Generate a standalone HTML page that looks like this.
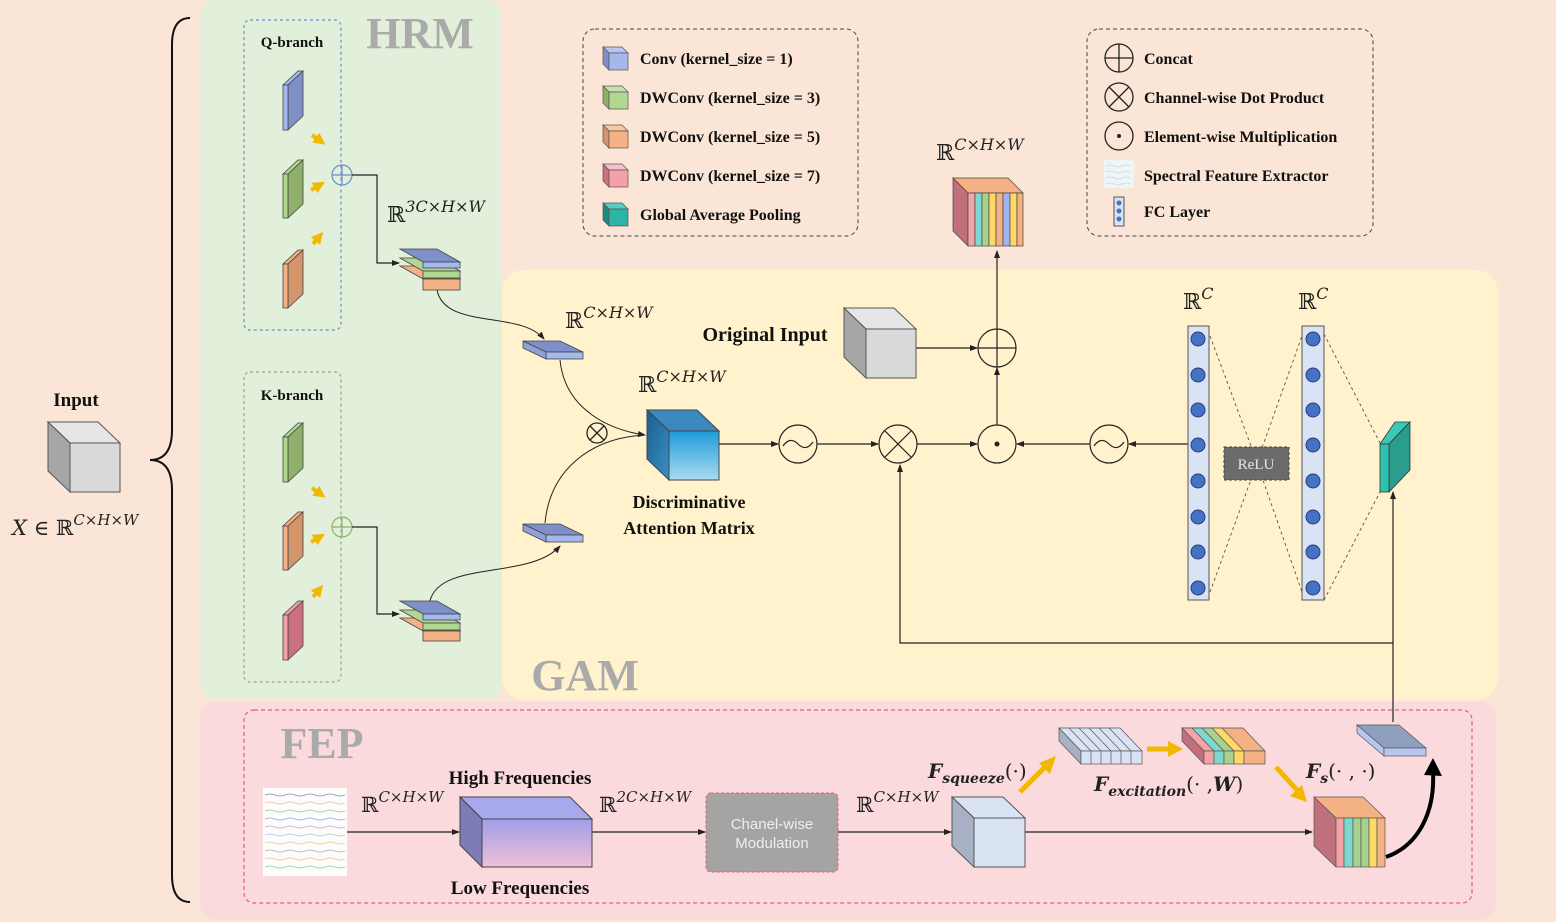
<!DOCTYPE html>
<html><head><meta charset="utf-8"><style>
html,body{margin:0;padding:0;background:#fbe5d6;}
svg{display:block;}
.b{font-family:"Liberation Serif",serif;font-weight:bold;fill:#111;}
.m{font-family:"DejaVu Serif","Liberation Serif",serif;fill:#222;}
.t{font-family:"Liberation Serif",serif;font-weight:bold;fill:#aaa;}
</style></head><body>
<svg width="1556" height="922" viewBox="0 0 1556 922" xmlns="http://www.w3.org/2000/svg">
<defs>
<marker id="a" markerWidth="8" markerHeight="8" refX="7" refY="4" orient="auto" markerUnits="userSpaceOnUse"><path d="M0,1 L8,4 L0,7 z" fill="#222"/></marker>
<marker id="y" markerWidth="12" markerHeight="12" refX="4" refY="6" orient="auto" markerUnits="userSpaceOnUse"><path d="M0,0 L12,6 L0,12 z" fill="#f2b800"/></marker>
<linearGradient id="blu" x1="0" y1="0" x2="0" y2="1"><stop offset="0" stop-color="#1e9ad8"/><stop offset="1" stop-color="#a8dcf0"/></linearGradient>
<linearGradient id="blut" x1="0" y1="0" x2="1" y2="1"><stop offset="0" stop-color="#1a5f8f"/><stop offset="1" stop-color="#3a8fc5"/></linearGradient>
<linearGradient id="pur" x1="0" y1="0" x2="0" y2="1"><stop offset="0" stop-color="#9f9fe8"/><stop offset="1" stop-color="#efbfd8"/></linearGradient>
</defs>
<rect width="1556" height="922" fill="#fbe5d6"/>
<rect x="200" y="0" width="302" height="700" rx="16" fill="#e2efda"/>
<rect x="502" y="270" width="996" height="430" rx="22" fill="#fff2cc"/>
<rect x="200" y="702" width="1296" height="218" rx="16" fill="#fadadd"/>
<rect x="244" y="710" width="1228" height="193" rx="10" fill="none" stroke="#e06070" stroke-width="1.2" stroke-dasharray="4,3"/>
<text class="t" x="420" y="48" font-size="44" text-anchor="middle">HRM</text>
<text class="t" x="585" y="690" font-size="44" text-anchor="middle">GAM</text>
<text class="t" x="322" y="758" font-size="44" text-anchor="middle">FEP</text>

<path d="M190,18 Q172,18 172,45 L172,430 Q172,460 150,460 Q172,460 172,490 L172,875 Q172,902 190,902" fill="none" stroke="#111" stroke-width="2"/>

<text class="b" x="76" y="406" font-size="19" text-anchor="middle">Input</text>
<polygon points="48,422 98,422 120,443 70,443" fill="#e6e6e6" stroke="#555"/>
<polygon points="48,422 70,443 70,492 48,471" fill="#a6a6a6" stroke="#555"/>
<rect x="70" y="443" width="50" height="49" fill="#d9d9d9" stroke="#555"/>
<text class="m" x="12" y="535" font-size="21"><tspan font-style="italic">X</tspan> ∈ ℝ<tspan font-size="15" dy="-10" font-style="italic">C×H×W</tspan></text>

<rect x="244" y="20" width="97" height="310" rx="6" fill="none" stroke="#6b8fc8" stroke-width="1.2" stroke-dasharray="3,3"/>
<text class="b" x="292" y="47" font-size="15" text-anchor="middle">Q-branch</text>
<g stroke="#444" stroke-width="0.8">
<polygon points="283,85 298,71 303,71 288,85" fill="#a4b8ee"/><polygon points="288,85 303,71 303,116 288,130" fill="#7f8fc8"/><rect x="283" y="85" width="5" height="45" fill="#a4b8ee"/>
<polygon points="283,174 298,160 303,160 288,174" fill="#b0d890"/><polygon points="288,174 303,160 303,204 288,218" fill="#8fb06a"/><rect x="283" y="174" width="5" height="44" fill="#b0d890"/>
<polygon points="283,264 298,250 303,250 288,264" fill="#f4b183"/><polygon points="288,264 303,250 303,294 288,308" fill="#d4956a"/><rect x="283" y="264" width="5" height="44" fill="#f4b183"/>
</g>
<rect x="244" y="372" width="97" height="310" rx="6" fill="none" stroke="#8fb06a" stroke-width="1.2" stroke-dasharray="3,3"/>
<text class="b" x="292" y="400" font-size="15" text-anchor="middle">K-branch</text>
<g stroke="#444" stroke-width="0.8">
<polygon points="283,437 298,423 303,423 288,437" fill="#b0d890"/><polygon points="288,437 303,423 303,468 288,482" fill="#8fb06a"/><rect x="283" y="437" width="5" height="45" fill="#b0d890"/>
<polygon points="283,526 298,512 303,512 288,526" fill="#f4b183"/><polygon points="288,526 303,512 303,556 288,570" fill="#d4956a"/><rect x="283" y="526" width="5" height="44" fill="#f4b183"/>
<polygon points="283,615 298,601 303,601 288,615" fill="#f4a0aa"/><polygon points="288,615 303,601 303,646 288,660" fill="#cc6f7e"/><rect x="283" y="615" width="5" height="45" fill="#f4a0aa"/>
</g>
<g stroke="#f2b800" stroke-width="4" fill="none">
<path d="M312,135 L319,140" marker-end="url(#y)"/>
<path d="M311,190 L318,186" marker-end="url(#y)"/>
<path d="M313,244 L318,238" marker-end="url(#y)"/>
<path d="M312,488 L319,493" marker-end="url(#y)"/>
<path d="M311,542 L318,538" marker-end="url(#y)"/>
<path d="M313,597 L318,591" marker-end="url(#y)"/>
</g>
<circle cx="342" cy="175" r="10" fill="none" stroke="#6b8fc8" stroke-width="1.2"/><path d="M332,175 H352 M342,165 V185" stroke="#6b8fc8" stroke-width="1.2"/>
<circle cx="342" cy="527" r="10" fill="none" stroke="#8fb06a" stroke-width="1.2"/><path d="M332,527 H352 M342,517 V537" stroke="#8fb06a" stroke-width="1.2"/>
<path d="M352,175 H377 V263 H399" fill="none" stroke="#222" stroke-width="1.2" marker-end="url(#a)"/>
<path d="M352,527 H377 V614 H399" fill="none" stroke="#222" stroke-width="1.2" marker-end="url(#a)"/>
<text class="m" x="387" y="222" font-size="22">ℝ<tspan font-size="16" dy="-10" font-style="italic">3C×H×W</tspan></text>
<g stroke="#444" stroke-width="0.8">
<polygon points="400,266 437,266 460,279 423,279" fill="#f4b183"/><rect x="423" y="279" width="37" height="11" fill="#f4b183"/>
<polygon points="400,258 437,258 460,271 423,271" fill="#b0d890"/><rect x="423" y="271" width="37" height="7" fill="#b0d890"/>
<polygon points="400,249 437,249 460,262 423,262" fill="#7f8fc8"/><rect x="423" y="262" width="37" height="6" fill="#a4b8ee"/>
<polygon points="400,618 437,618 460,631 423,631" fill="#f4b183"/><rect x="423" y="631" width="37" height="10" fill="#f4b183"/>
<polygon points="400,610 437,610 460,623 423,623" fill="#b0d890"/><rect x="423" y="623" width="37" height="7" fill="#b0d890"/>
<polygon points="400,601 437,601 460,614 423,614" fill="#7f8fc8"/><rect x="423" y="614" width="37" height="6" fill="#a4b8ee"/>
<polygon points="523,341 560,341 583,352 546,352" fill="#7f8fc8"/><rect x="546" y="352" width="37" height="7" fill="#a4b8ee"/><polygon points="523,341 546,352 546,359 523,348" fill="#8fa0d8"/>
<polygon points="523,524 560,524 583,535 546,535" fill="#7f8fc8"/><rect x="546" y="535" width="37" height="7" fill="#a4b8ee"/><polygon points="523,524 546,535 546,542 523,531" fill="#8fa0d8"/>
</g>
<path d="M437,290 C445,330 520,310 544,339" fill="none" stroke="#222" stroke-width="1" marker-end="url(#a)"/>
<path d="M430,601 C440,560 530,580 560,546" fill="none" stroke="#222" stroke-width="1" marker-end="url(#a)"/>
<text class="m" x="565" y="328" font-size="22">ℝ<tspan font-size="16" dy="-10" font-style="italic">C×H×W</tspan></text>
<path d="M560,360 C565,410 610,430 645,435" fill="none" stroke="#222" stroke-width="1" marker-end="url(#a)"/>
<path d="M545,523 C550,470 590,438 645,435" fill="none" stroke="#222" stroke-width="1"/>
<circle cx="597" cy="433" r="10" fill="none" stroke="#222" stroke-width="1.3"/><path d="M590,426 L604,440 M604,426 L590,440" stroke="#222" stroke-width="1.3"/>
<polygon points="647,410 697,410 719,431 669,431" fill="#3a8ac0" stroke="#444"/>
<polygon points="647,410 669,431 669,480 647,459" fill="url(#blut)" stroke="#444"/>
<rect x="669" y="431" width="50" height="49" fill="url(#blu)" stroke="#444"/>
<text class="m" x="638" y="392" font-size="22">ℝ<tspan font-size="16" dy="-10" font-style="italic">C×H×W</tspan></text>
<text class="b" x="689" y="508" font-size="18" text-anchor="middle">Discriminative</text>
<text class="b" x="689" y="534" font-size="18" text-anchor="middle">Attention Matrix</text>
<g stroke="#222" stroke-width="1.2" fill="none">
<path d="M719,444 H778" marker-end="url(#a)"/>
<circle cx="798" cy="444" r="19"/><path d="M783,446 Q790,436 798,444 Q806,452 813,442"/>
<path d="M817,444 H878" marker-end="url(#a)"/>
<circle cx="898" cy="444" r="19"/><path d="M885,431 L911,457 M911,431 L885,457"/>
<path d="M917,444 H977" marker-end="url(#a)"/>
<circle cx="997" cy="444" r="19"/>
<path d="M1190,444 H1129" marker-end="url(#a)"/>
<circle cx="1109" cy="444" r="19"/><path d="M1094,446 Q1101,436 1109,444 Q1117,452 1124,442"/>
<path d="M1090,444 H1017" marker-end="url(#a)"/>
<path d="M997,425 V368" marker-end="url(#a)"/>
<circle cx="997" cy="348" r="19"/><path d="M978,348 H1016 M997,329 V367"/>
<path d="M997,329 V251" marker-end="url(#a)"/>
<path d="M916,348 H977" marker-end="url(#a)"/>
<path d="M1393,722 V492" marker-end="url(#a)"/>
<path d="M1393,643 H900 V465" marker-end="url(#a)"/>
</g>
<circle cx="997" cy="444" r="2.5" fill="#222"/>
<text class="b" x="765" y="341" font-size="20" text-anchor="middle">Original Input</text>
<polygon points="844,308 894,308 916,329 866,329" fill="#e6e6e6" stroke="#555"/>
<polygon points="844,308 866,329 866,378 844,357" fill="#a6a6a6" stroke="#555"/>
<rect x="866" y="329" width="50" height="49" fill="#d9d9d9" stroke="#555"/>
<text class="m" x="936" y="160" font-size="22">ℝ<tspan font-size="16" dy="-10" font-style="italic">C×H×W</tspan></text>
<g stroke="#444" stroke-width="0.7">
<polygon points="953,178 1008,178 1023,193 968,193" fill="#f4b183"/>
<polygon points="953,178 968,193 968,246 953,231" fill="#c0707a"/>
<rect x="968" y="193" width="7" height="53" fill="#f4a3a8"/><rect x="975" y="193" width="7" height="53" fill="#7fd8d0"/><rect x="982" y="193" width="7" height="53" fill="#a9d18e"/><rect x="989" y="193" width="7" height="53" fill="#ffd966"/><rect x="996" y="193" width="7" height="53" fill="#f4b183"/><rect x="1003" y="193" width="7" height="53" fill="#9fb4f0"/><rect x="1010" y="193" width="7" height="53" fill="#ffd966"/><rect x="1017" y="193" width="6" height="53" fill="#f4b183"/>
</g>
<g stroke="#555" stroke-width="0.9" stroke-dasharray="3,3" fill="none">
<path d="M1210,336 L1257,462 L1302,336 M1210,592 L1257,463 L1302,592 M1324,334 L1380,443 M1324,600 L1380,492"/>
</g>
<rect x="1188" y="326" width="21" height="274" fill="#dae3f3" stroke="#555"/>
<rect x="1302" y="326" width="22" height="274" fill="#dae3f3" stroke="#555"/>
<g fill="#4472c4" stroke="#2a3f70">
<circle cx="1198" cy="339" r="7"/><circle cx="1198" cy="375" r="7"/><circle cx="1198" cy="410" r="7"/><circle cx="1198" cy="445" r="7"/><circle cx="1198" cy="481" r="7"/><circle cx="1198" cy="517" r="7"/><circle cx="1198" cy="552" r="7"/><circle cx="1198" cy="588" r="7"/>
<circle cx="1313" cy="339" r="7"/><circle cx="1313" cy="375" r="7"/><circle cx="1313" cy="410" r="7"/><circle cx="1313" cy="445" r="7"/><circle cx="1313" cy="481" r="7"/><circle cx="1313" cy="517" r="7"/><circle cx="1313" cy="552" r="7"/><circle cx="1313" cy="588" r="7"/>
</g>
<rect x="1224" y="447" width="65" height="33" fill="#6d6a6a" stroke="#444" stroke-dasharray="3,2"/>
<text x="1256" y="469" font-size="15" text-anchor="middle" fill="#e8e8e8" font-family="Liberation Serif,serif">ReLU</text>
<text class="m" x="1183" y="309" font-size="22">ℝ<tspan font-size="16" dy="-10" font-style="italic">C</tspan></text>
<text class="m" x="1298" y="309" font-size="22">ℝ<tspan font-size="16" dy="-10" font-style="italic">C</tspan></text>
<g stroke="#333" stroke-width="0.8">
<polygon points="1380,444 1395,422 1410,422 1389,444" fill="#3cc8b8"/>
<polygon points="1389,444 1410,422 1410,470 1389,492" fill="#2a9d8f"/>
<rect x="1380" y="444" width="9" height="48" fill="#30c0b0"/>
</g>
<rect x="583" y="29" width="275" height="207" rx="12" fill="none" stroke="#444" stroke-dasharray="4,3"/>
<g stroke="#555" stroke-width="0.7">
<polygon points="603,47 622,47 628,53 609,53" fill="#b7c6f0"/><polygon points="603,47 609,53 609,70 603,64" fill="#7f8fc8"/><rect x="609" y="53" width="19" height="17" fill="#a4b8ee"/>
<polygon points="603,86 622,86 628,92 609,92" fill="#c6e0b0"/><polygon points="603,86 609,92 609,109 603,103" fill="#8fb06a"/><rect x="609" y="92" width="19" height="17" fill="#b0d890"/>
<polygon points="603,125 622,125 628,131 609,131" fill="#f8c8a0"/><polygon points="603,125 609,131 609,148 603,142" fill="#d4956a"/><rect x="609" y="131" width="19" height="17" fill="#f4b183"/>
<polygon points="603,164 622,164 628,170 609,170" fill="#f8c0c8"/><polygon points="603,164 609,170 609,187 603,181" fill="#cc6f7e"/><rect x="609" y="170" width="19" height="17" fill="#f4a0aa"/>
<polygon points="603,203 622,203 628,209 609,209" fill="#50d0c0"/><polygon points="603,203 609,209 609,226 603,220" fill="#1e8a7e"/><rect x="609" y="209" width="19" height="17" fill="#2ab5a5"/>
</g>
<g class="b" font-size="16">
<text x="640" y="64">Conv (kernel_size = 1)</text>
<text x="640" y="103">DWConv (kernel_size = 3)</text>
<text x="640" y="142">DWConv (kernel_size = 5)</text>
<text x="640" y="181">DWConv (kernel_size = 7)</text>
<text x="640" y="220">Global Average Pooling</text>
</g>
<rect x="1087" y="29" width="286" height="207" rx="12" fill="none" stroke="#444" stroke-dasharray="4,3"/>
<g stroke="#222" stroke-width="1.3" fill="none">
<circle cx="1119" cy="58" r="14"/><path d="M1105,58 H1133 M1119,44 V72"/>
<circle cx="1119" cy="97" r="14"/><path d="M1109,87 L1129,107 M1129,87 L1109,107"/>
<circle cx="1119" cy="136" r="14"/>
</g>
<circle cx="1119" cy="136" r="2" fill="#222"/>
<rect x="1104" y="160" width="30" height="28" fill="#eef5f5"/>
<path d="M1106,166 q4,-2 8,0 t8,0 t8,0 M1106,172 q4,-2 8,0 t8,0 t8,0 M1106,178 q4,-2 8,0 t8,0 t8,0 M1106,184 q4,-2 8,0 t8,0 t8,0" stroke="#bde" stroke-width="0.8" fill="none"/>
<rect x="1114" y="197" width="10" height="29" fill="#dae3f3" stroke="#555"/>
<circle cx="1119" cy="203" r="2.5" fill="#4472c4"/><circle cx="1119" cy="211" r="2.5" fill="#4472c4"/><circle cx="1119" cy="219" r="2.5" fill="#4472c4"/>
<g class="b" font-size="16">
<text x="1144" y="64">Concat</text>
<text x="1144" y="103">Channel-wise Dot  Product</text>
<text x="1144" y="142">Element-wise Multiplication</text>
<text x="1144" y="181">Spectral Feature Extractor</text>
<text x="1144" y="217">FC Layer</text>
</g>
<rect x="263" y="788" width="84" height="88" fill="#fdfdfd"/>
<g stroke-width="0.7" fill="none">
<path d="M265,795 q5,-2 10,0 t10,0 t10,0 t10,0 t10,0 t10,0 t10,0 t10,0" stroke="#88a"/>
<path d="M265,803 q5,-2 10,0 t10,0 t10,0 t10,0 t10,0 t10,0 t10,0 t10,0" stroke="#eb8"/>
<path d="M265,811 q5,-2 10,0 t10,0 t10,0 t10,0 t10,0 t10,0 t10,0 t10,0" stroke="#8c8"/>
<path d="M265,819 q5,-2 10,0 t10,0 t10,0 t10,0 t10,0 t10,0 t10,0 t10,0" stroke="#8ad"/>
<path d="M265,827 q5,-2 10,0 t10,0 t10,0 t10,0 t10,0 t10,0 t10,0 t10,0" stroke="#caa"/>
<path d="M265,835 q5,-2 10,0 t10,0 t10,0 t10,0 t10,0 t10,0 t10,0 t10,0" stroke="#9cd"/>
<path d="M265,843 q5,-2 10,0 t10,0 t10,0 t10,0 t10,0 t10,0 t10,0 t10,0" stroke="#dc8"/>
<path d="M265,851 q5,-2 10,0 t10,0 t10,0 t10,0 t10,0 t10,0 t10,0 t10,0" stroke="#aab"/>
<path d="M265,859 q5,-2 10,0 t10,0 t10,0 t10,0 t10,0 t10,0 t10,0 t10,0" stroke="#eb8"/>
<path d="M265,867 q5,-2 10,0 t10,0 t10,0 t10,0 t10,0 t10,0 t10,0 t10,0" stroke="#8c9"/>
</g>
<g stroke="#222" stroke-width="1.2" fill="none">
<path d="M347,832 H459" marker-end="url(#a)"/>
<path d="M592,832 H705" marker-end="url(#a)"/>
<path d="M838,832 H951" marker-end="url(#a)"/>
<path d="M1025,832 H1312" marker-end="url(#a)"/>
</g>
<text class="m" x="361" y="812" font-size="21">ℝ<tspan font-size="15" dy="-10" font-style="italic">C×H×W</tspan></text>
<text class="m" x="599" y="812" font-size="21">ℝ<tspan font-size="15" dy="-10" font-style="italic">2C×H×W</tspan></text>
<text class="m" x="856" y="812" font-size="21">ℝ<tspan font-size="15" dy="-10" font-style="italic">C×H×W</tspan></text>
<text class="b" x="520" y="784" font-size="19" text-anchor="middle">High Frequencies</text>
<text class="b" x="520" y="894" font-size="19" text-anchor="middle">Low Frequencies</text>
<polygon points="460,797 570,797 592,819 482,819" fill="#a8a8ec" stroke="#444"/>
<polygon points="460,797 482,819 482,867 460,845" fill="#7c7cb8" stroke="#444"/>
<rect x="482" y="819" width="110" height="48" fill="url(#pur)" stroke="#444"/>
<rect x="706" y="793" width="132" height="79" rx="5" fill="#a6a3a3" stroke="#e06070" stroke-dasharray="3,2"/>
<text x="772" y="829" font-size="15" text-anchor="middle" fill="#eee" font-family="Liberation Sans,sans-serif">Chanel-wise</text>
<text x="772" y="848" font-size="15" text-anchor="middle" fill="#eee" font-family="Liberation Sans,sans-serif">Modulation</text>
<polygon points="952,797 1003,797 1025,818 974,818" fill="#dae3f3" stroke="#555"/>
<polygon points="952,797 974,818 974,867 952,846" fill="#a8b0c4" stroke="#555"/>
<rect x="974" y="818" width="51" height="49" fill="#dae3f3" stroke="#555"/>
<g stroke="#f2b800" stroke-width="5" fill="none"><path d="M1020,792 L1045,767"/><path d="M1147,749 H1170"/><path d="M1276,767 L1297,790"/></g>
<g fill="#f2b800"><polygon points="1056,756 1050,774 1039,763"/><polygon points="1183,749 1168,741 1168,757"/><polygon points="1307,802 1290,796 1302,785"/></g>
<g stroke="#555" stroke-width="0.7">
<polygon points="1059,728 1120,728 1142,751 1081,751" fill="#dae3f3"/>
<polygon points="1059,728 1081,751 1081,764 1059,741" fill="#a8b0c4"/>
<rect x="1081" y="751" width="61" height="13" fill="#dae3f3"/>
<path d="M1069,728 L1091,751 V764 M1079,728 L1101,751 V764 M1089,728 L1111,751 V764 M1099,728 L1121,751 V764 M1109,728 L1131,751 V764" fill="none"/>
<polygon points="1182,728 1243,728 1265,751 1204,751" fill="#f4b183"/>
<polygon points="1182,728 1192,728 1214,751 1204,751" fill="#f4a3a8"/><polygon points="1192,728 1202,728 1224,751 1214,751" fill="#7fd8d0"/><polygon points="1202,728 1212,728 1234,751 1224,751" fill="#a9d18e"/><polygon points="1212,728 1222,728 1244,751 1234,751" fill="#ffd966"/>
<polygon points="1182,728 1204,751 1204,764 1182,741" fill="#c0707a"/>
<rect x="1204" y="751" width="10" height="13" fill="#f4a3a8"/><rect x="1214" y="751" width="10" height="13" fill="#7fd8d0"/><rect x="1224" y="751" width="10" height="13" fill="#a9d18e"/><rect x="1234" y="751" width="10" height="13" fill="#ffd966"/><rect x="1244" y="751" width="21" height="13" fill="#f4b183"/>
<polygon points="1314,797 1363,797 1385,818 1336,818" fill="#f4b183"/>
<polygon points="1314,797 1336,818 1336,867 1314,846" fill="#c0707a"/>
<rect x="1336" y="818" width="8" height="49" fill="#f4a3a8"/><rect x="1344" y="818" width="9" height="49" fill="#7fd8d0"/><rect x="1353" y="818" width="8" height="49" fill="#a9d18e"/><rect x="1361" y="818" width="8" height="49" fill="#a9d18e"/><rect x="1369" y="818" width="8" height="49" fill="#ffd966"/><rect x="1377" y="818" width="8" height="49" fill="#f4b183"/>
<polygon points="1357,725 1399,725 1426,748 1384,748" fill="#8fa0bf"/>
<polygon points="1357,725 1384,748 1384,756 1357,733" fill="#b7c6f0"/>
<rect x="1384" y="748" width="42" height="8" fill="#b7c6f0"/>
</g>
<path d="M1386,857 C1420,845 1435,810 1433,772" fill="none" stroke="#000" stroke-width="4"/>
<polygon points="1433,758 1442,776 1424,775" fill="#000"/>
<text class="m" x="928" y="778" font-size="20" font-weight="bold"><tspan font-style="italic">F</tspan><tspan font-size="14" dy="5" font-style="italic">squeeze</tspan><tspan dy="-5" font-weight="normal">(·)</tspan></text>
<text class="m" x="1094" y="791" font-size="20" font-weight="bold"><tspan font-style="italic">F</tspan><tspan font-size="14" dy="5" font-style="italic">excitation</tspan><tspan dy="-5" font-weight="normal">(· ,</tspan><tspan font-style="italic">W</tspan><tspan font-weight="normal">)</tspan></text>
<text class="m" x="1306" y="778" font-size="20" font-weight="bold"><tspan font-style="italic">F</tspan><tspan font-size="14" dy="5" font-style="italic">s</tspan><tspan dy="-5" font-weight="normal">(· , ·)</tspan></text>
</svg>
</body></html>
